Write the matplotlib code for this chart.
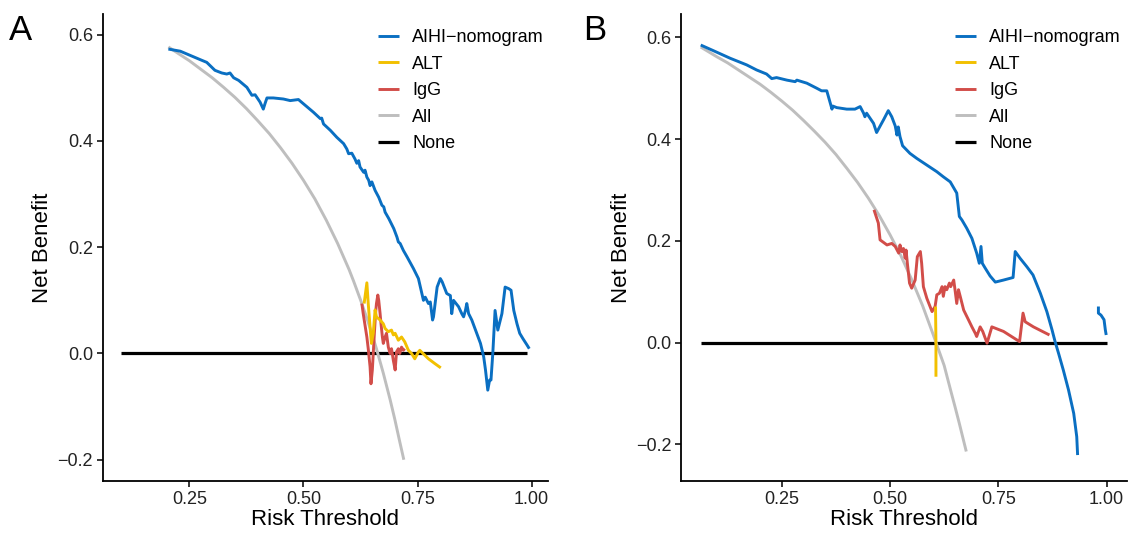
import numpy as np
import matplotlib
matplotlib.use("Agg")
import matplotlib.pyplot as plt

plt.rcParams['font.family'] = ['Liberation Sans', 'DejaVu Sans']

labels = ['AIHI\u2212nomogram', 'ALT', 'IgG', 'All', 'None']
colors = ['#0a6fc2', '#f2c000', '#d24d49', '#bebebe', '#000000']

# ---- panel A ----
a_nom_x = [0.204, 0.230, 0.252, 0.274, 0.288, 0.306, 0.321, 0.332, 0.339, 0.347, 0.358, 0.376, 0.387, 0.394,
           0.398, 0.405, 0.412, 0.416, 0.420, 0.434, 0.456, 0.471, 0.489, 0.500, 0.522, 0.537, 0.540, 0.544,
           0.559, 0.573, 0.588, 0.595, 0.599, 0.606, 0.613, 0.617, 0.621, 0.624, 0.632, 0.635, 0.639, 0.643,
           0.646, 0.650, 0.657, 0.665, 0.672, 0.676, 0.679, 0.687, 0.698, 0.705, 0.708, 0.712, 0.719, 0.727,
           0.741, 0.752, 0.763, 0.767, 0.774, 0.778, 0.783, 0.785, 0.793, 0.800, 0.804, 0.814, 0.822, 0.825,
           0.829, 0.840, 0.847, 0.851, 0.855, 0.858, 0.862, 0.869, 0.888, 0.895, 0.899, 0.904, 0.908, 0.911,
           0.915, 0.920, 0.926, 0.935, 0.942, 0.950, 0.955, 0.961, 0.968, 0.974, 0.981, 0.990, 0.995]
a_nom_y = [0.573, 0.569, 0.561, 0.553, 0.548, 0.533, 0.528, 0.526, 0.528, 0.519, 0.514, 0.501, 0.486, 0.487,
           0.482, 0.473, 0.460, 0.471, 0.481, 0.481, 0.479, 0.476, 0.478, 0.470, 0.454, 0.442, 0.443, 0.432,
           0.420, 0.407, 0.395, 0.385, 0.376, 0.377, 0.366, 0.358, 0.363, 0.351, 0.341, 0.345, 0.332, 0.326,
           0.316, 0.323, 0.307, 0.294, 0.279, 0.276, 0.266, 0.254, 0.235, 0.219, 0.210, 0.207, 0.194, 0.182,
           0.160, 0.141, 0.100, 0.106, 0.094, 0.097, 0.063, 0.069, 0.125, 0.141, 0.135, 0.113, 0.109, 0.075,
           0.100, 0.088, 0.075, 0.069, 0.081, 0.094, 0.075, 0.063, 0.019, -0.006, -0.031, -0.069, -0.050, -0.050,
           0.000, 0.081, 0.044, 0.075, 0.125, 0.122, 0.119, 0.081, 0.056, 0.038, 0.028, 0.016, 0.009]

a_alt_x = [0.633, 0.639, 0.642, 0.646, 0.649, 0.653, 0.657, 0.660, 0.668, 0.675, 0.679, 0.686, 0.693, 0.697,
           0.701, 0.708, 0.715, 0.722, 0.730, 0.737, 0.744, 0.752, 0.755, 0.762, 0.774, 0.788, 0.801]
a_alt_y = [0.094, 0.133, 0.094, 0.050, 0.019, 0.038, 0.082, 0.069, 0.063, 0.056, 0.047, 0.041, 0.044, 0.035,
           0.038, 0.025, 0.031, 0.022, 0.006, 0.000, -0.010, 0.003, 0.006, 0.000, -0.010, -0.019, -0.027]

a_igg_x = [0.628, 0.631, 0.635, 0.639, 0.642, 0.646, 0.648, 0.651, 0.653, 0.655, 0.658, 0.660, 0.663, 0.665,
           0.668, 0.670, 0.673, 0.675, 0.679, 0.682, 0.686, 0.690, 0.693, 0.697, 0.701, 0.704, 0.708, 0.711,
           0.715, 0.719, 0.722]
a_igg_y = [0.094, 0.075, 0.053, 0.031, 0.009, -0.025, -0.057, -0.031, 0.000, 0.031, 0.075, 0.094, 0.110, 0.100,
           0.075, 0.056, 0.031, 0.019, 0.031, 0.038, 0.012, 0.000, 0.009, -0.013, -0.031, 0.003, 0.009, 0.000,
           0.012, 0.006, 0.009]

a_all_x = [0.204, 0.225, 0.25, 0.275, 0.30, 0.325, 0.35, 0.375, 0.40, 0.425, 0.45, 0.475, 0.50, 0.525, 0.55,
           0.575, 0.60, 0.61, 0.625, 0.64, 0.65, 0.66, 0.675, 0.69, 0.70, 0.71, 0.72]
a_all_y = [0.577, 0.565, 0.551, 0.535, 0.519, 0.501, 0.482, 0.461, 0.438, 0.414, 0.387, 0.358, 0.326, 0.291,
           0.251, 0.207, 0.158, 0.136, 0.101, 0.064, 0.037, 0.009, -0.037, -0.087, -0.123, -0.162, -0.200]

a_none_x = [0.10, 0.99]
a_none_y = [0.0, 0.0]

# ---- panel B ----
b_nom_x = [0.063, 0.092, 0.131, 0.169, 0.192, 0.215, 0.227, 0.238, 0.262, 0.281, 0.285, 0.308, 0.331, 0.342,
           0.354, 0.360, 0.366, 0.368, 0.377, 0.400, 0.419, 0.431, 0.439, 0.442, 0.446, 0.454, 0.462, 0.469,
           0.476, 0.485, 0.496, 0.504, 0.512, 0.516, 0.519, 0.523, 0.529, 0.546, 0.562, 0.585, 0.608, 0.623,
           0.639, 0.654, 0.660, 0.666, 0.677, 0.689, 0.700, 0.706, 0.710, 0.713, 0.720, 0.731, 0.743, 0.762,
           0.784, 0.789, 0.800, 0.816, 0.830, 0.847, 0.862, 0.874, 0.881, 0.889, 0.900, 0.912, 0.924, 0.931,
           0.933, np.nan, 0.981, 0.981, 0.987, 0.994, 0.997, 0.999]
b_nom_y = [0.585, 0.574, 0.559, 0.546, 0.536, 0.528, 0.519, 0.521, 0.516, 0.513, 0.516, 0.510, 0.500, 0.495,
           0.495, 0.477, 0.459, 0.465, 0.462, 0.459, 0.459, 0.464, 0.451, 0.444, 0.451, 0.441, 0.431, 0.413,
           0.424, 0.438, 0.456, 0.444, 0.426, 0.408, 0.424, 0.405, 0.387, 0.372, 0.362, 0.349, 0.336, 0.326,
           0.316, 0.294, 0.248, 0.241, 0.225, 0.205, 0.176, 0.156, 0.189, 0.156, 0.146, 0.131, 0.119, 0.123,
           0.128, 0.179, 0.166, 0.149, 0.133, 0.097, 0.061, 0.025, 0.002, -0.021, -0.054, -0.093, -0.139, -0.185,
           -0.221, np.nan, 0.071, 0.058, 0.054, 0.045, 0.025, 0.015]

b_alt_x = [0.605, 0.606, 0.606]
b_alt_y = [0.071, 0.000, -0.067]

b_igg_x = [0.463, 0.473, 0.477, 0.493, 0.504, 0.512, 0.520, 0.523, 0.527, 0.531, 0.535, 0.537, 0.540, 0.545,
           0.550, 0.558, 0.563, 0.570, 0.573, 0.577, 0.585, 0.597, 0.604, 0.608, 0.614, 0.620, 0.623, 0.627,
           0.631, 0.637, 0.640, 0.647, 0.650, 0.654, 0.658, 0.662, 0.670, 0.681, 0.689, 0.697, 0.700, 0.708,
           0.714, 0.724, 0.735, 0.762, 0.799, 0.807, 0.812, 0.831, 0.868]
b_igg_y = [0.261, 0.235, 0.202, 0.192, 0.195, 0.189, 0.176, 0.192, 0.179, 0.185, 0.166, 0.182, 0.156, 0.117,
           0.107, 0.123, 0.169, 0.179, 0.156, 0.110, 0.087, 0.061, 0.071, 0.094, 0.097, 0.110, 0.091, 0.110,
           0.104, 0.117, 0.110, 0.123, 0.104, 0.077, 0.104, 0.091, 0.064, 0.045, 0.031, 0.018, 0.012, 0.031,
           0.022, -0.001, 0.031, 0.022, 0.002, 0.058, 0.041, 0.031, 0.015]

b_all_x = [0.063, 0.10, 0.125, 0.15, 0.175, 0.20, 0.225, 0.25, 0.275, 0.30, 0.325, 0.35, 0.375, 0.40, 0.425,
           0.45, 0.475, 0.50, 0.525, 0.55, 0.575, 0.60, 0.625, 0.64, 0.65, 0.66, 0.676]
b_all_y = [0.581, 0.562, 0.550, 0.536, 0.522, 0.508, 0.492, 0.475, 0.457, 0.437, 0.416, 0.394, 0.370, 0.343,
           0.315, 0.284, 0.250, 0.212, 0.171, 0.124, 0.073, 0.015, -0.045, -0.094, -0.126, -0.159, -0.214]

b_none_x = [0.063, 1.0]
b_none_y = [0.0, 0.0]

W, H = 1129, 534
fig = plt.figure(figsize=(W / 100, H / 100), dpi=100)


def panel(left, right, xlim, ylim, series, letter, letter_x, leg_x):
    ax = fig.add_axes([left / W, 1 - 481 / H, (right - left) / W, (481 - 14) / H])
    for i in [3, 2, 1, 0, 4]:
        x, y = series[i]
        ax.plot(x, y, color=colors[i], lw=2.1 if i != 4 else 2.3, solid_capstyle='butt',
                solid_joinstyle='round', label=labels[i], zorder=3 if i != 4 else 2)
    ax.set_xlim(*xlim)
    ax.set_ylim(*ylim)
    ax.set_xticks([0.25, 0.50, 0.75, 1.00])
    ax.set_xticklabels(['0.25', '0.50', '0.75', '1.00'])
    ax.set_yticks([-0.2, 0.0, 0.2, 0.4, 0.6])
    ax.set_yticklabels(['\u22120.2', '0.0', '0.2', '0.4', '0.6'])
    for s in ['top', 'right']:
        ax.spines[s].set_visible(False)
    for s in ['left', 'bottom']:
        ax.spines[s].set_linewidth(1.3)
    ax.tick_params(length=4, width=1.1, labelsize=13, colors='#000000', labelcolor='#222222', pad=3)
    ax.set_xlabel('Risk Threshold', fontsize=16, labelpad=1)
    ax.set_ylabel('Net Benefit', fontsize=16, labelpad=3)
    h, l = ax.get_legend_handles_labels()
    hmap = dict(zip(l, h))
    ax.legend([hmap[k] for k in labels], labels, loc='upper left', frameon=False,
              bbox_to_anchor=(leg_x / W, 1 - 29 / H), bbox_transform=fig.transFigure,
              fontsize=13, handlelength=1.15, handletextpad=0.75, labelspacing=0.53,
              borderpad=0, borderaxespad=0)
    fig.text(letter_x / W, 1 - 14 / H, letter, fontsize=25, va='top', ha='left')
    return ax


panel(102.7, 548, (0.060, 1.036), (-0.240, 0.639),
      [(a_nom_x, a_nom_y), (a_alt_x, a_alt_y), (a_igg_x, a_igg_y), (a_all_x, a_all_y), (a_none_x, a_none_y)],
      'A', 9, 378)
panel(681, 1127, (0.0175, 1.047), (-0.272, 0.646),
      [(b_nom_x, b_nom_y), (b_alt_x, b_alt_y), (b_igg_x, b_igg_y), (b_all_x, b_all_y), (b_none_x, b_none_y)],
      'B', 583, 955)

fig.savefig('out.png', dpi=100)
